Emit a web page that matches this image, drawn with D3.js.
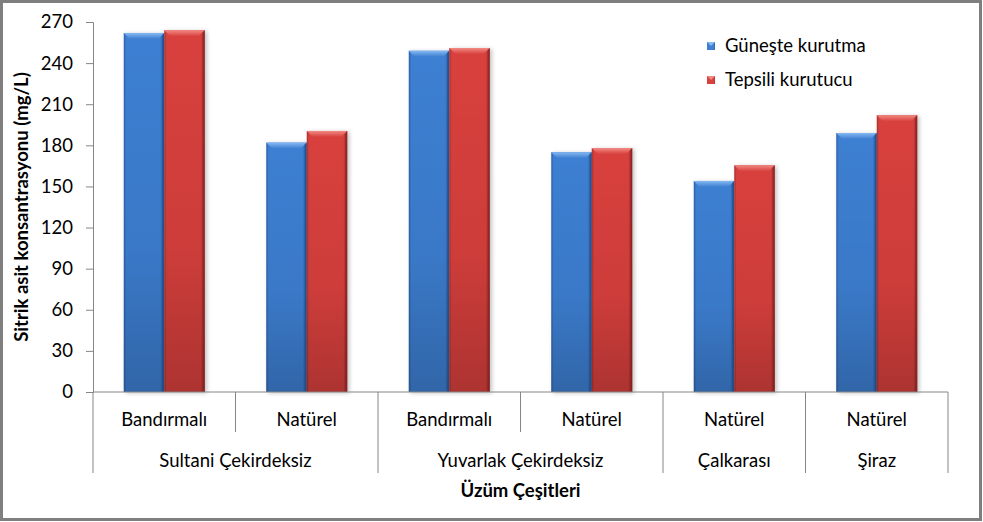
<!DOCTYPE html>
<html>
<head>
<meta charset="utf-8">
<script src="https://cdn.jsdelivr.net/npm/d3@7"></script>
<style>
html,body{margin:0;padding:0;background:#fff;}
svg{display:block;}
text{font-family:Lato,"Open Sans",sans-serif;fill:#000;}
</style>
</head>
<body>
<svg id="chart" width="983" height="522"></svg>
<script>
// ---- data ----
const subCategories = ["Bandırmalı","Natürel","Bandırmalı","Natürel","Natürel","Natürel"];
const groupOfCategory = [0,0,1,1,2,3];
const groups = ["Sultani Çekirdeksiz","Yuvarlak Çekirdeksiz","Çalkarası","Şiraz"];
const seriesNames = ["Güneşte kurutma","Tepsili kurutucu"];
const gunesteKurutma = [262,182,249,175,154,189];
const tepsiliKurutucu = [264,190.5,251,178,165.5,202];
const yTicks = [0,30,60,90,120,150,180,210,240,270];
const yTitle = "Sitrik asit konsantrasyonu (mg/L)";
const xTitle = "Üzüm Çeşitleri";

const svg = d3.select("#chart");
const W = 983, H = 522;
const M = {left:93, right:948, top:22, bottom:392};
const FS = 18.5;

// frame
svg.append("rect").attr("x",1.5).attr("y",1.5).attr("width",W-4).attr("height",H-4)
  .attr("fill","#fff").attr("stroke","#7f7f7f").attr("stroke-width",3);

const defs = svg.append("defs");
const palette = [
  {base:"#3e7fd2", dark:"#2c5ea6", light:"#85b9f2", edge:"#24528f"},
  {base:"#d8413e", dark:"#a82f2d", light:"#f28a84", edge:"#8c2322"}
];
palette.forEach((p,i)=>{
  const g = defs.append("linearGradient").attr("id","hg"+i).attr("x1","0").attr("x2","1").attr("y1","0").attr("y2","0");
  [[0,p.dark],[0.06,p.base],[0.9,p.base],[0.97,p.dark],[1,p.edge]].forEach(s=>g.append("stop").attr("offset",s[0]).attr("stop-color",s[1]));
  const b = defs.append("linearGradient").attr("id","bev"+i).attr("x1","0").attr("x2","0").attr("y1","0").attr("y2","1");
  [[0,p.light],[1,p.base]].forEach(s=>b.append("stop").attr("offset",s[0]).attr("stop-color",s[1]));
});
const vg = defs.append("linearGradient").attr("id","vshade").attr("x1","0").attr("x2","0").attr("y1","0").attr("y2","1");
[[0,0],[0.6,0.05],[1,0.2]].forEach(s=>vg.append("stop").attr("offset",s[0]).attr("stop-color","#000").attr("stop-opacity",s[1]));
const f = defs.append("filter").attr("id","shadow").attr("x","-20%").attr("y","-5%").attr("width","140%").attr("height","115%");
f.append("feDropShadow").attr("dx",2).attr("dy",1).attr("stdDeviation",2).attr("flood-color","#000").attr("flood-opacity",0.25);

// scales
const x0 = d3.scaleBand().domain(d3.range(subCategories.length)).range([M.left,M.right]).paddingInner(0).paddingOuter(0);
const x1 = d3.scaleBand().domain([0,1]).range([0,x0.bandwidth()]).paddingInner(0).paddingOuter(0.76);
const y = d3.scaleLinear().domain([0,270]).range([M.bottom,M.top]);

// y axis
const yAxis = d3.axisLeft(y).tickValues(yTicks).tickSize(7).tickPadding(13);
const ya = svg.append("g").attr("transform",`translate(${M.left},0)`).call(yAxis);
ya.select(".domain").attr("stroke","#868686");
ya.selectAll(".tick line").attr("stroke","#868686");
ya.selectAll(".tick text").attr("font-size",FS).attr("font-family","Lato,sans-serif").attr("fill","#000");

// bars
const series = [gunesteKurutma, tepsiliKurutucu];
const barsG = svg.append("g");
subCategories.forEach((c,ci)=>{
  series.forEach((vals,si)=>{
    const bx = x0(ci)+x1(si), bw = x1.bandwidth();
    const by = y(vals[ci]), bh = y(0)-y(vals[ci]);
    const g = barsG.append("g");
    g.append("rect").attr("x",bx).attr("y",by).attr("width",bw).attr("height",bh)
      .attr("fill",`url(#hg${si})`).attr("filter","url(#shadow)");
    g.append("rect").attr("x",bx).attr("y",by).attr("width",bw).attr("height",bh)
      .attr("fill","url(#vshade)");
    const bv = 6;
    g.append("path").attr("d",`M${bx},${by} L${bx+bw},${by} L${bx+bw-bv},${by+bv} L${bx+bv},${by+bv} Z`)
      .attr("fill",`url(#bev${si})`);
    g.append("path").attr("d",`M${bx+bw},${by} L${bx+bw},${by+bh} L${bx+bw-2},${by+bh} L${bx+bw-2},${by+2} Z`)
      .attr("fill",palette[si].edge).attr("opacity",0.6);
  });
});

// x axis line
svg.append("line").attr("x1",M.left).attr("x2",M.right).attr("y1",y(0)).attr("y2",y(0)).attr("stroke","#868686");

// dividers
const bounds = d3.range(subCategories.length+1);
bounds.forEach(i=>{
  const xx = i<subCategories.length ? x0(i) : M.right;
  const isGroupBound = i===0 || i===subCategories.length || groupOfCategory[i]!==groupOfCategory[i-1];
  svg.append("line").attr("x1",xx).attr("x2",xx).attr("y1",y(0)).attr("y2",isGroupBound?473:432)
    .attr("stroke","#868686");
});

// sub labels
svg.append("g").selectAll("text").data(subCategories).join("text")
  .attr("x",(d,i)=>x0(i)+x0.bandwidth()/2).attr("y",420).attr("dy","0.35em")
  .attr("text-anchor","middle").attr("font-size",FS).text(d=>d);

// group labels
groups.forEach((gname,gi)=>{
  const idx = d3.range(subCategories.length).filter(i=>groupOfCategory[i]===gi);
  const xs = x0(idx[0]), xe = x0(idx[idx.length-1])+x0.bandwidth();
  svg.append("text").attr("x",(xs+xe)/2).attr("y",461).attr("dy","0.35em")
    .attr("text-anchor","middle").attr("font-size",FS).text(gname);
});

// axis titles
svg.append("text").attr("x",(M.left+M.right)/2).attr("y",491).attr("dy","0.35em")
  .attr("text-anchor","middle").attr("font-size",FS).attr("font-weight","bold").text(xTitle);
svg.append("text").attr("transform",`translate(22,${(M.top+M.bottom)/2}) rotate(-90)`)
  .attr("dy","0.35em").attr("text-anchor","middle").attr("font-size",18.5).attr("font-weight","bold").text(yTitle);

// legend
const lg = svg.append("g");
seriesNames.forEach((s,i)=>{
  const ly = 46 + i*34;
  lg.append("rect").attr("x",707).attr("y",ly-4).attr("width",8).attr("height",8).attr("fill",`url(#hg${i})`);
  lg.append("path").attr("d",`M707,${ly-4} L715,${ly-4} L711,${ly} Z`).attr("fill",palette[i].light);
  lg.append("text").attr("x",725).attr("y",ly).attr("dy","0.35em").attr("font-size",FS).text(s);
});
</script>
</body>
</html>
